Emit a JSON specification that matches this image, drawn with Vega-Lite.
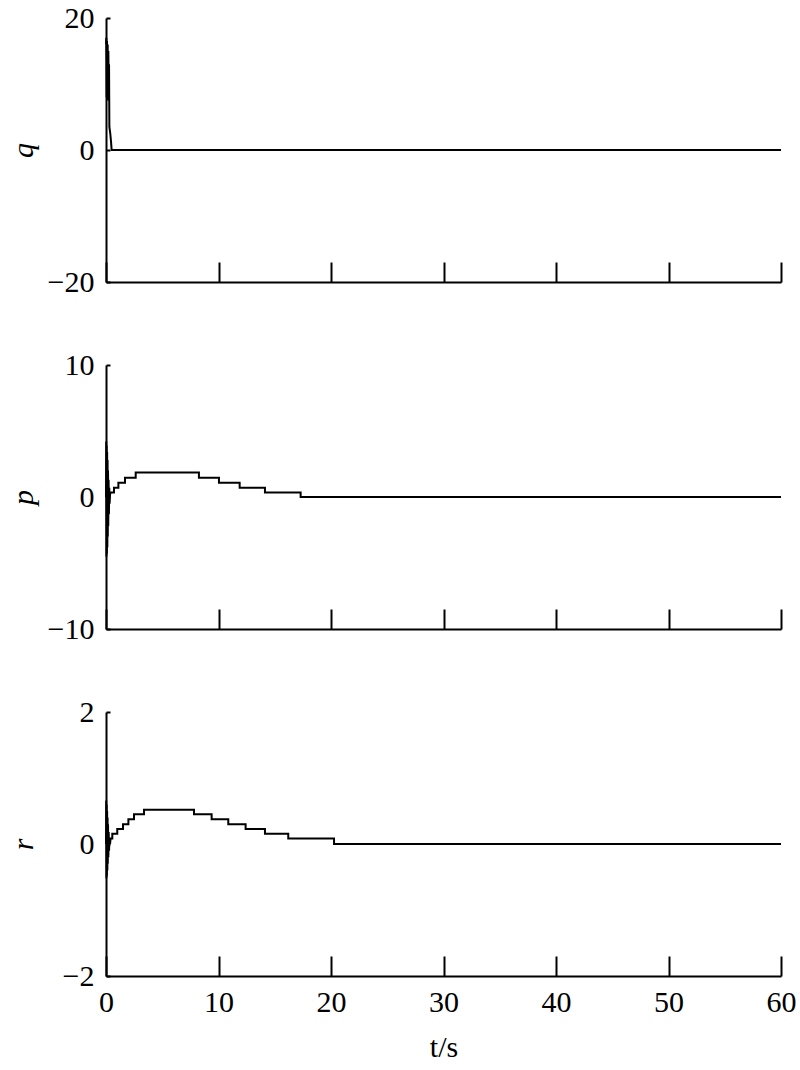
{
  "$schema": "https://vega.github.io/schema/vega-lite/v6.json",
  "background": "white",
  "padding": {"left": 8, "top": 3, "right": 5, "bottom": 5},
  "spacing": 83,
  "bounds": "flush",
  "config": {
    "font": "Liberation Serif",
    "view": {"stroke": null},
    "axis": {
      "grid": false,
      "domainColor": "black",
      "domainWidth": 2,
      "tickColor": "black",
      "tickWidth": 2,
      "labelFont": "Liberation Serif",
      "labelFontSize": 30,
      "labelColor": "black",
      "labelFlush": false,
      "titleFont": "Liberation Serif",
      "titleFontSize": 30,
      "titleColor": "black",
      "titleFontWeight": "normal"
    }
  },
  "datasets": {
    "q": [
      {"i": 0, "t": 0, "v": 16},
      {"i": 1, "t": 0.03, "v": 17},
      {"i": 2, "t": 0.06, "v": 8},
      {"i": 3, "t": 0.09, "v": 16.5},
      {"i": 4, "t": 0.12, "v": 7.5},
      {"i": 5, "t": 0.15, "v": 16},
      {"i": 6, "t": 0.18, "v": 8.5},
      {"i": 7, "t": 0.21, "v": 15},
      {"i": 8, "t": 0.24, "v": 10},
      {"i": 9, "t": 0.27, "v": 13},
      {"i": 10, "t": 0.30, "v": 3.5},
      {"i": 11, "t": 0.38, "v": 2.5},
      {"i": 12, "t": 0.45, "v": 1.2},
      {"i": 13, "t": 0.50, "v": 0},
      {"i": 14, "t": 60, "v": 0}
    ],
    "p": [
      {"i": 0, "t": 0, "v": 0},
      {"i": 1, "t": 0.02, "v": 4.2},
      {"i": 2, "t": 0.04, "v": -4.5},
      {"i": 3, "t": 0.06, "v": 3.9},
      {"i": 4, "t": 0.08, "v": -4.3},
      {"i": 5, "t": 0.10, "v": 3.4},
      {"i": 6, "t": 0.12, "v": -3.8},
      {"i": 7, "t": 0.14, "v": 2.8},
      {"i": 8, "t": 0.16, "v": -3.0},
      {"i": 9, "t": 0.18, "v": 2.0},
      {"i": 10, "t": 0.20, "v": -2.2},
      {"i": 11, "t": 0.23, "v": 1.3},
      {"i": 12, "t": 0.26, "v": -1.3},
      {"i": 13, "t": 0.29, "v": 0.7},
      {"i": 14, "t": 0.32, "v": -0.5},
      {"i": 15, "t": 0.36, "v": 0.2},
      {"i": 16, "t": 0.41, "v": 0.35},
      {"i": 17, "t": 0.71, "v": 0.35},
      {"i": 18, "t": 0.71, "v": 0.7},
      {"i": 19, "t": 1.1, "v": 0.7},
      {"i": 20, "t": 1.1, "v": 1.08},
      {"i": 21, "t": 1.69, "v": 1.08},
      {"i": 22, "t": 1.69, "v": 1.46},
      {"i": 23, "t": 2.64, "v": 1.46},
      {"i": 24, "t": 2.64, "v": 1.86},
      {"i": 25, "t": 8.26, "v": 1.86},
      {"i": 26, "t": 8.26, "v": 1.46},
      {"i": 27, "t": 10.04, "v": 1.46},
      {"i": 28, "t": 10.04, "v": 1.08},
      {"i": 29, "t": 11.88, "v": 1.08},
      {"i": 30, "t": 11.88, "v": 0.7},
      {"i": 31, "t": 14.13, "v": 0.7},
      {"i": 32, "t": 14.13, "v": 0.35},
      {"i": 33, "t": 17.3, "v": 0.35},
      {"i": 34, "t": 17.3, "v": 0},
      {"i": 35, "t": 60, "v": 0}
    ],
    "r": [
      {"i": 0, "t": 0, "v": 0},
      {"i": 1, "t": 0.02, "v": 0.66},
      {"i": 2, "t": 0.04, "v": -0.52},
      {"i": 3, "t": 0.06, "v": 0.6},
      {"i": 4, "t": 0.08, "v": -0.48},
      {"i": 5, "t": 0.10, "v": 0.5},
      {"i": 6, "t": 0.12, "v": -0.4},
      {"i": 7, "t": 0.14, "v": 0.4},
      {"i": 8, "t": 0.16, "v": -0.3},
      {"i": 9, "t": 0.18, "v": 0.3},
      {"i": 10, "t": 0.21, "v": -0.2},
      {"i": 11, "t": 0.24, "v": 0.18},
      {"i": 12, "t": 0.27, "v": -0.1},
      {"i": 13, "t": 0.31, "v": 0.06},
      {"i": 14, "t": 0.36, "v": 0.0},
      {"i": 15, "t": 0.41, "v": 0.083},
      {"i": 16, "t": 0.56, "v": 0.083},
      {"i": 17, "t": 0.56, "v": 0.154},
      {"i": 18, "t": 1.0, "v": 0.154},
      {"i": 19, "t": 1.0, "v": 0.226},
      {"i": 20, "t": 1.51, "v": 0.226},
      {"i": 21, "t": 1.51, "v": 0.30},
      {"i": 22, "t": 1.99, "v": 0.30},
      {"i": 23, "t": 1.99, "v": 0.375},
      {"i": 24, "t": 2.49, "v": 0.375},
      {"i": 25, "t": 2.49, "v": 0.45},
      {"i": 26, "t": 3.38, "v": 0.45},
      {"i": 27, "t": 3.38, "v": 0.52},
      {"i": 28, "t": 7.82, "v": 0.52},
      {"i": 29, "t": 7.82, "v": 0.45},
      {"i": 30, "t": 9.39, "v": 0.45},
      {"i": 31, "t": 9.39, "v": 0.375},
      {"i": 32, "t": 10.87, "v": 0.375},
      {"i": 33, "t": 10.87, "v": 0.30},
      {"i": 34, "t": 12.41, "v": 0.30},
      {"i": 35, "t": 12.41, "v": 0.226},
      {"i": 36, "t": 14.13, "v": 0.226},
      {"i": 37, "t": 14.13, "v": 0.154},
      {"i": 38, "t": 16.2, "v": 0.154},
      {"i": 39, "t": 16.2, "v": 0.083},
      {"i": 40, "t": 20.27, "v": 0.083},
      {"i": 41, "t": 20.27, "v": 0},
      {"i": 42, "t": 60, "v": 0}
    ]
  },
  "vconcat": [
    {
      "width": 675,
      "height": 264,
      "data": {"name": "q"},
      "mark": {"type": "line", "color": "black", "strokeWidth": 2},
      "encoding": {
        "x": {"field": "t", "type": "quantitative", "scale": {"domain": [0, 60], "nice": false},
              "axis": {"values": [0, 10, 20, 30, 40, 50, 60], "labels": false, "title": null, "tickSize": -20}},
        "y": {"field": "v", "type": "quantitative", "scale": {"domain": [-20, 20], "nice": false},
              "axis": {"values": [-20, 0, 20], "tickSize": -4, "labelPadding": 16, "title": "q",
                       "titleFontStyle": "italic", "titleX": -83, "titleY": 132, "titleBaseline": "middle", "titleAlign": "center", "titleAngle": -90}},
        "order": {"field": "i", "type": "quantitative"}
      }
    },
    {
      "width": 675,
      "height": 264,
      "data": {"name": "p"},
      "mark": {"type": "line", "color": "black", "strokeWidth": 2},
      "encoding": {
        "x": {"field": "t", "type": "quantitative", "scale": {"domain": [0, 60], "nice": false},
              "axis": {"values": [0, 10, 20, 30, 40, 50, 60], "labels": false, "title": null, "tickSize": -20}},
        "y": {"field": "v", "type": "quantitative", "scale": {"domain": [-10, 10], "nice": false},
              "axis": {"values": [-10, 0, 10], "tickSize": -4, "labelPadding": 16, "title": "p",
                       "titleFontStyle": "italic", "titleX": -83, "titleY": 132, "titleBaseline": "middle", "titleAlign": "center", "titleAngle": -90}},
        "order": {"field": "i", "type": "quantitative"}
      }
    },
    {
      "width": 675,
      "height": 264,
      "data": {"name": "r"},
      "mark": {"type": "line", "color": "black", "strokeWidth": 2},
      "encoding": {
        "x": {"field": "t", "type": "quantitative", "scale": {"domain": [0, 60], "nice": false},
              "axis": {"values": [0, 10, 20, 30, 40, 50, 60], "tickSize": -20, "labelPadding": 31, "title": "t/s",
                       "titleY": 80, "titleBaseline": "alphabetic"}},
        "y": {"field": "v", "type": "quantitative", "scale": {"domain": [-2, 2], "nice": false},
              "axis": {"values": [-2, 0, 2], "tickSize": -4, "labelPadding": 16, "title": "r",
                       "titleFontStyle": "italic", "titleX": -83, "titleY": 132, "titleBaseline": "middle", "titleAlign": "center", "titleAngle": -90}},
        "order": {"field": "i", "type": "quantitative"}
      }
    }
  ]
}
